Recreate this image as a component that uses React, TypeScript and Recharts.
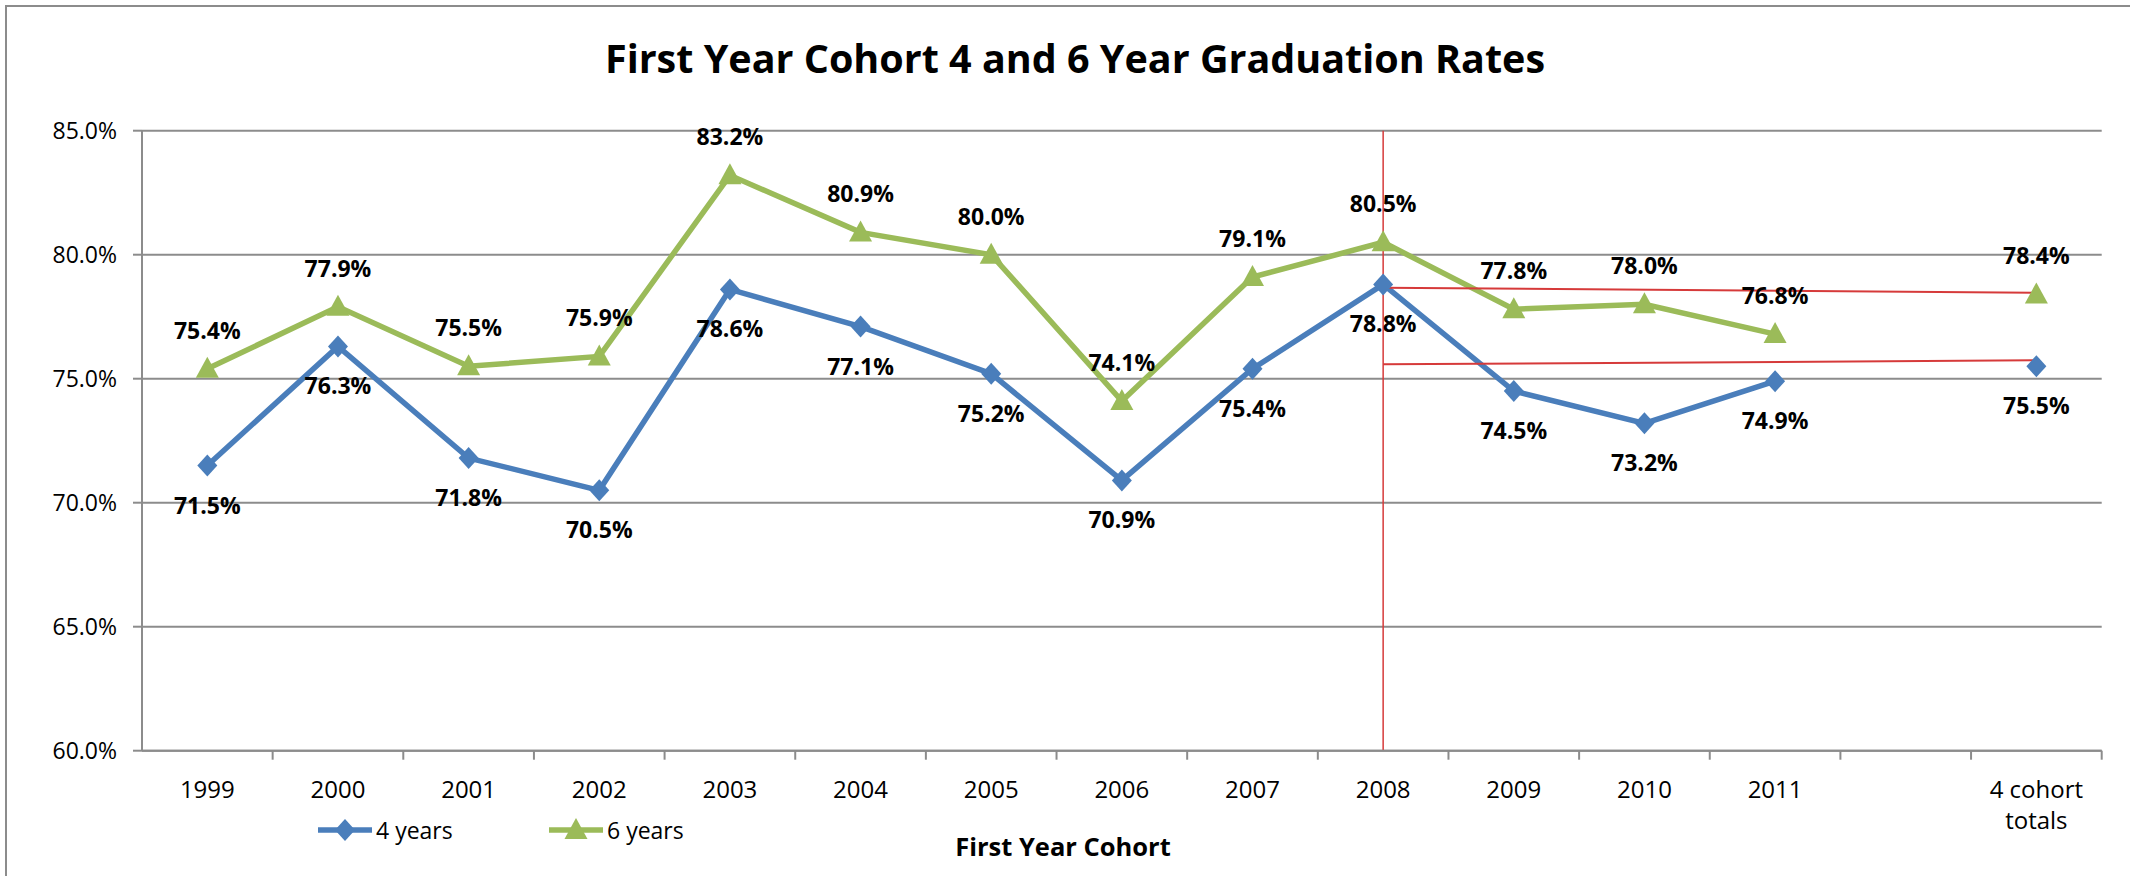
import React from "react";
import {
  ComposedChart,
  Line,
  XAxis,
  YAxis,
  CartesianGrid,
  Legend,
  LabelList,
  ReferenceLine,
} from "recharts";

const cohorts = [
  "1999", "2000", "2001", "2002", "2003", "2004", "2005",
  "2006", "2007", "2008", "2009", "2010", "2011", "", "4 cohort totals",
];
const fourYears = [71.5, 76.3, 71.8, 70.5, 78.6, 77.1, 75.2, 70.9, 75.4, 78.8, 74.5, 73.2, 74.9, null, 75.5];
const sixYears = [75.4, 77.9, 75.5, 75.9, 83.2, 80.9, 80.0, 74.1, 79.1, 80.5, 77.8, 78.0, 76.8, null, 78.4];
const yTicks = [60, 65, 70, 75, 80, 85];
// the hand drawn red marks running from 2008 out to the totals
const sixYearMark = [78.67, 78.47];
const fourYearMark = [75.58, 75.74];

const data = cohorts.map((c, i) => ({ cohort: c, four: fourYears[i], six: sixYears[i] }));

const FONT = '"Open Sans", "Liberation Sans", sans-serif';
const BLUE = "#4a7ebb";
const GREEN = "#9bbb59";
const GRID = "#8c8c8c";
const RED = "#d63a3a";

const W = 2130;
const H = 876;
const PLOT_LEFT = 142;
const PLOT_RIGHT = 2101.7;
const PLOT_TOP = 130.7;
const PLOT_BOTTOM = 750.7;
const BAND = (PLOT_RIGHT - PLOT_LEFT) / cohorts.length;

const Diamond = (props: any) => {
  const { cx, cy, index } = props;
  if (cx == null || cy == null || props.value == null) return <g key={`d${index}`} />;
  return (
    <polygon
      key={`d${index}`}
      points={`${cx},${cy - 11} ${cx + 10},${cy} ${cx},${cy + 11} ${cx - 10},${cy}`}
      fill={BLUE}
    />
  );
};

const Triangle = (props: any) => {
  const { cx, cy, index } = props;
  if (cx == null || cy == null || props.value == null) return <g key={`t${index}`} />;
  return (
    <polygon
      key={`t${index}`}
      points={`${cx},${cy - 12} ${cx + 11.5},${cy + 9} ${cx - 11.5},${cy + 9}`}
      fill={GREEN}
    />
  );
};

const makeLabel = (dy: number) => (props: any) => {
  const vb = props.viewBox || {};
  const x = props.x ?? vb.x;
  const y = props.y ?? vb.y;
  if (props.value == null || x == null || y == null) return null;
  return (
    <text
      x={x}
      y={y + dy}
      textAnchor="middle"
      dominantBaseline="central"
      fontFamily={FONT}
      fontWeight={700}
      fontSize={23}
      fill="#000"
    >
      {Number(props.value).toFixed(1)}%
    </text>
  );
};

const CohortTick = (props: any) => {
  const { x, y, payload } = props;
  const label: string = payload.value ?? "";
  let lines = [label];
  if (label.length > 6 && label.includes(" ")) {
    const cut = label.lastIndexOf(" ");
    lines = [label.slice(0, cut), label.slice(cut + 1)];
  }
  return (
    <g>
      <line x1={x + BAND / 2} x2={x + BAND / 2} y1={y} y2={y + 9} stroke={GRID} strokeWidth={2} />
      {lines.map((l, i) => (
        <text
          key={i}
          x={x}
          y={y + 38 + i * 31}
          textAnchor="middle"
          dominantBaseline="central"
          fontFamily={FONT}
          fontSize={24}
          fill="#000"
        >
          {l}
        </text>
      ))}
    </g>
  );
};

const LegendIcon = ({ kind, color }: { kind: string; color: string }) => (
  <svg width={56} height={26} style={{ display: "block" }}>
    <line x1={0} x2={54} y1={13} y2={13} stroke={color} strokeWidth={5.5} />
    {kind === "four" ? (
      <polygon points="27,2 37,13 27,24 17,13" fill={color} />
    ) : (
      <polygon points="27,1 38.5,22 15.5,22" fill={color} />
    )}
  </svg>
);

const LegendContent = (props: any) => {
  const items = props.payload || [];
  return (
    <div style={{ display: "flex", alignItems: "center", fontFamily: FONT, fontSize: 23, color: "#000" }}>
      {items.map((it: any) => (
        <div key={it.dataKey} style={{ display: "flex", alignItems: "center", width: 231 }}>
          <LegendIcon kind={it.dataKey} color={it.color} />
          <span style={{ marginLeft: 2, lineHeight: "30px" }}>{it.value}</span>
        </div>
      ))}
    </div>
  );
};

const AxisTitle = (props: any) => {
  const vb = props.viewBox || {};
  return (
    <text
      x={1063}
      y={vb.y + 95}
      textAnchor="middle"
      dominantBaseline="central"
      fontFamily={FONT}
      fontWeight={700}
      fontSize={25.5}
      fill="#000"
    >
      First Year Cohort
    </text>
  );
};

export default function App() {
  return (
    <div
      style={{
        position: "fixed",
        left: 0,
        top: 0,
        width: W,
        height: H,
        overflow: "hidden",
        background: "#fff",
      }}
    >
      <div
        style={{
          position: "absolute",
          left: 5,
          top: 5,
          width: 2200,
          height: 920,
          border: `2px solid ${GRID}`,
        }}
      />
      <div
        style={{
          position: "absolute",
          left: 0,
          top: 33,
          width: 2150,
          textAlign: "center",
          fontFamily: FONT,
          fontWeight: 700,
          fontSize: 39.5,
          lineHeight: "50px",
          color: "#000",
        }}
      >
        First Year Cohort 4 and 6 Year Graduation Rates
      </div>
      <div style={{ position: "absolute", left: 0, top: 0 }}>
        <ComposedChart
          width={W}
          height={H}
          data={data}
          margin={{ top: PLOT_TOP, right: W - PLOT_RIGHT, left: 0, bottom: 10 }}
        >
          <CartesianGrid vertical={false} stroke={GRID} strokeWidth={2} />
          <XAxis
            dataKey="cohort"
            scale="band"
            interval={0}
            tickSize={0}
            tickMargin={0}
            tickLine={false}
            axisLine={{ stroke: GRID, strokeWidth: 2 }}
            tick={<CohortTick />}
            height={H - PLOT_BOTTOM - 10}
            label={<AxisTitle />}
          />
          <YAxis
            type="number"
            domain={[60, 85]}
            ticks={yTicks}
            interval={0}
            width={PLOT_LEFT}
            tickSize={9}
            tickMargin={16}
            tickFormatter={(v: number) => `${v.toFixed(1)}%`}
            tick={{ fontSize: 23, fill: "#000", fontFamily: FONT }}
            axisLine={{ stroke: GRID, strokeWidth: 2 }}
            tickLine={{ stroke: GRID, strokeWidth: 2 }}
          />
          <Legend
            layout="horizontal"
            verticalAlign="middle"
            align="center"
            content={<LegendContent />}
            wrapperStyle={{ left: 318, top: 815, width: "auto", height: 30 }}
          />
          <Line
            dataKey="four"
            name="4 years"
            stroke={BLUE}
            strokeWidth={5.5}
            dot={Diamond}
            activeDot={false}
            isAnimationActive={false}
          >
            <LabelList dataKey="four" content={makeLabel(39)} />
          </Line>
          <Line
            dataKey="six"
            name="6 years"
            stroke={GREEN}
            strokeWidth={5.5}
            dot={Triangle}
            activeDot={false}
            isAnimationActive={false}
          >
            <LabelList dataKey="six" content={makeLabel(-39)} />
          </Line>
          <ReferenceLine x="2008" stroke={RED} strokeWidth={1.5} />
          <ReferenceLine
            segment={[
              { x: "2008", y: sixYearMark[0] },
              { x: "4 cohort totals", y: sixYearMark[1] },
            ]}
            stroke={RED}
            strokeWidth={2}
          />
          <ReferenceLine
            segment={[
              { x: "2008", y: fourYearMark[0] },
              { x: "4 cohort totals", y: fourYearMark[1] },
            ]}
            stroke={RED}
            strokeWidth={2}
          />
        </ComposedChart>
      </div>
    </div>
  );
}
